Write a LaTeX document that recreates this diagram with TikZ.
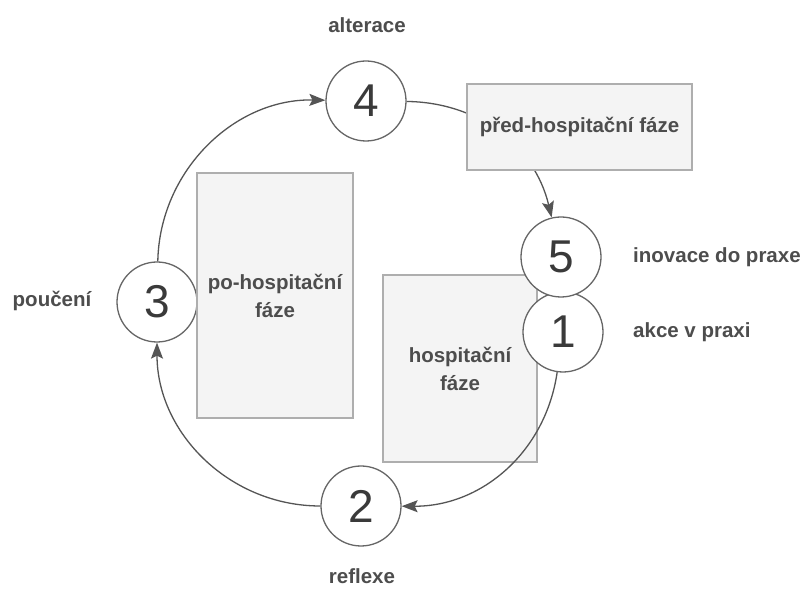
\documentclass[tikz,border=0pt]{standalone}
\usepackage{fontspec}
\setmainfont{Liberation Sans}
\usetikzlibrary{arrows.meta}
\definecolor{linec}{HTML}{555555}
\definecolor{circc}{HTML}{666666}
\definecolor{numc}{HTML}{3A3A3A}
\definecolor{lblc}{HTML}{4D4D4D}
\definecolor{boxline}{HTML}{AEAEAE}
\definecolor{boxfill}{HTML}{F4F4F4}
\begin{document}
\begin{tikzpicture}[x=1pt,y=1pt,
  num/.style={circle, draw=circc, line width=1.3pt, fill=white, minimum size=80pt, inner sep=0pt, text=numc, font=\fontsize{46}{46}\selectfont},
  lbl/.style={text=lblc, font=\fontsize{20.5}{24}\selectfont\bfseries, inner sep=0pt},
  phasebox/.style={draw=boxline, fill=boxfill, line width=1.2pt, inner sep=0pt, align=center, text=lblc, font=\fontsize{20.5}{28}\selectfont\bfseries},
  flow/.style={draw=linec, line width=1.3pt, -{Stealth[length=16pt,width=12pt,inset=3pt]}}
]
\useasboundingbox (0,0) rectangle (811,589);
\fill[white] (0,0) rectangle (811,589);

% box under the arc 1->2
\node[phasebox, minimum width=154pt, minimum height=187pt] (hosp) at (460,220.5) {hospitační\\fáze};

% circles
\node[num] (n1) at (563,257) {1};
\node[num] (n5) at (561,332) {5};
\node[num] (n4) at (366,488) {4};
\node[num] (n3) at (157,287) {3};
\node[num] (n2) at (361,83) {2};

% cycle connectors
\draw[flow] (n3) to[bend left=45] (n4);
\draw[flow] (n4) to[bend left=38] (n5);
\draw[flow] (n1) to[bend left=41] (n2);
\draw[flow] (n2) to[bend left=45] (n3);

% boxes over the arcs
\node[phasebox, minimum width=225pt, minimum height=86pt] (pred) at (579.5,462) {před-hospitační fáze};
\node[phasebox, minimum width=156pt, minimum height=245pt] (po) at (275,293.5) {po-hospitační\\fáze};

% labels
\node[lbl, anchor=base] (l4) at (367,556) {alterace};
\node[lbl, anchor=base west] (l5) at (633,326) {inovace do praxe};
\node[lbl, anchor=base west] (l1) at (633,251) {akce v praxi};
\node[lbl, anchor=base] (l3) at (52,282) {poučení};
\node[lbl, anchor=base] (l2) at (362,5) {reflexe};
\end{tikzpicture}
\end{document}
